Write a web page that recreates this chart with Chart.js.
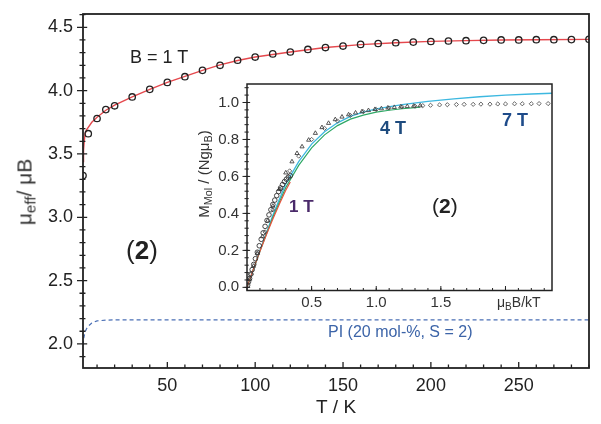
<!DOCTYPE html>
<html>
<head>
<meta charset="utf-8">
<script src="https://cdn.jsdelivr.net/npm/chart.js@4.4.1/dist/chart.umd.min.js"></script>
<style>
  body { margin: 0; background: #fff; }
  #wrap { position: relative; width: 601px; height: 424px; font-family: "Liberation Sans", Arial, sans-serif; color: #222; }
  canvas { position: absolute; }
  #main { left: 0; top: 0; }
  #inset { left: 190px; top: 74px; }
  .note { position: absolute; white-space: nowrap; line-height: 1; }
  .rot { transform: translate(-50%, -50%) rotate(-90deg); }
  sub { font-size: 0.72em; vertical-align: -0.28em; line-height: 0; }
</style>
</head>
<body>
<div id="wrap">
  <canvas id="main" width="601" height="424"></canvas>
  <canvas id="inset" width="375" height="242"></canvas>

  <div class="note rot" style="left:24px; top:192px; font-size:21px; color:#333;">μ<sub>eff</sub>/ μB</div>
  <div class="note" style="left:130px; top:48px; font-size:18px;">B = 1 T</div>
  <div class="note" style="left:126px; top:237px; font-size:26px;">(<b>2</b>)</div>
  <div class="note" style="left:328px; top:324px; font-size:16px; color:#3c64a8;">PI (20 mol-%, S = 2)</div>

  <div class="note rot" style="left:203px; top:174px; font-size:15px; color:#333;">M<sub>Mol</sub> / (Ngμ<sub>B</sub>)</div>
  <div class="note" style="left:497px; top:295px; font-size:14px; color:#333;">μ<sub>B</sub>B/kT</div>
  <div class="note" style="left:289px; top:198px; font-size:17px; font-weight:bold; color:#4a2a6a;">1 T</div>
  <div class="note" style="left:380px; top:119px; font-size:18px; font-weight:bold; color:#1e4b7e;">4 T</div>
  <div class="note" style="left:502px; top:111px; font-size:18px; font-weight:bold; color:#1e4b8a;">7 T</div>
  <div class="note" style="left:432px; top:195px; font-size:21px; color:#222;">(<b>2</b>)</div>
</div>

<script>
// main plot: mu_eff vs T at B = 1 T
const tempK = [2, 5, 10, 15, 20, 30, 40, 50, 60, 70, 80, 90, 100, 110, 120, 130, 140, 150,
               160, 170, 180, 190, 200, 210, 220, 230, 240, 250, 260, 270, 280, 290];
const muEff = [3.33, 3.66, 3.78, 3.85, 3.88, 3.95, 4.01, 4.065, 4.11, 4.16, 4.2, 4.24, 4.265, 4.29,
               4.305, 4.325, 4.34, 4.352, 4.365, 4.372, 4.378, 4.383, 4.388, 4.392, 4.394, 4.397,
               4.4, 4.4, 4.402, 4.402, 4.403, 4.405];
const fitT = [2, 2.3, 2.7, 3.2, 4, 5, 7, 10, 15, 20, 30, 40, 50, 60, 70, 80, 90, 100, 120, 140,
              160, 180, 200, 220, 240, 260, 290];
const fitMu = [3.44, 3.53, 3.6, 3.66, 3.69, 3.71, 3.75, 3.79, 3.845, 3.885, 3.95, 4.01, 4.065, 4.113,
               4.16, 4.203, 4.238, 4.265, 4.305, 4.34, 4.363, 4.378, 4.389, 4.395, 4.4, 4.402, 4.405];
const piT = [2, 2.5, 3, 3.5, 4, 5, 7, 10, 15, 20, 290];
const piMu = [1.99, 2.05, 2.085, 2.105, 2.12, 2.14, 2.165, 2.182, 2.188, 2.19, 2.19];
const tTicks = [50, 100, 150, 200, 250];
const muTicks = [2.0, 2.5, 3.0, 3.5, 4.0, 4.5];

// inset: M vs muB*B/kT
const m1x = [0.005, 0.012, 0.02, 0.03, 0.04, 0.052, 0.065, 0.08, 0.095, 0.11, 0.125, 0.14, 0.155,
             0.17, 0.185, 0.2, 0.215, 0.23, 0.245, 0.26, 0.275, 0.29, 0.305, 0.32, 0.335];
const m1y = [0.012, 0.03, 0.048, 0.072, 0.096, 0.124, 0.155, 0.19, 0.225, 0.26, 0.295, 0.33, 0.362,
             0.392, 0.42, 0.448, 0.472, 0.496, 0.518, 0.538, 0.556, 0.572, 0.585, 0.596, 0.604];
const m4x = [0.02, 0.05, 0.08, 0.12, 0.16, 0.2, 0.25, 0.3, 0.348, 0.387, 0.426, 0.477, 0.529, 0.58,
             0.631, 0.683, 0.735, 0.786, 0.84, 0.89, 0.94, 0.99, 1.04, 1.09, 1.14, 1.19, 1.24, 1.29, 1.34];
const m4y = [0.045, 0.115, 0.185, 0.275, 0.36, 0.44, 0.53, 0.62, 0.68, 0.725, 0.761, 0.797, 0.834,
             0.865, 0.888, 0.908, 0.922, 0.934, 0.944, 0.951, 0.957, 0.963, 0.967, 0.971, 0.974,
             0.977, 0.979, 0.981, 0.983];
const m7x = [0.03, 0.08, 0.14, 0.2, 0.26, 0.33, 0.4, 0.5, 0.6, 0.7, 0.8, 0.9, 1.0, 1.1, 1.2, 1.3,
             1.36, 1.42, 1.49, 1.55, 1.62, 1.68, 1.75, 1.81, 1.88, 1.94, 2.0, 2.07, 2.13, 2.2, 2.26, 2.33];
const m7y = [0.07, 0.18, 0.3, 0.42, 0.53, 0.63, 0.71, 0.8, 0.86, 0.9, 0.93, 0.95, 0.962, 0.97, 0.976,
             0.98, 0.983, 0.985, 0.987, 0.988, 0.989, 0.99, 0.99, 0.991, 0.991, 0.992, 0.992, 0.993,
             0.993, 0.993, 0.994, 0.994];
const fit1x = [0, 0.05, 0.1, 0.15, 0.2, 0.25, 0.3, 0.335];
const fit1y = [0, 0.1, 0.195, 0.285, 0.37, 0.45, 0.525, 0.57];
const fit4x = [0, 0.1, 0.2, 0.3, 0.4, 0.5, 0.6, 0.7, 0.8, 0.9, 1.0, 1.1, 1.2, 1.3, 1.34];
const fit4y = [0, 0.195, 0.38, 0.54, 0.66, 0.755, 0.825, 0.875, 0.91, 0.932, 0.948, 0.958, 0.966, 0.972, 0.975];
const fit7x = [0, 0.1, 0.2, 0.3, 0.4, 0.5, 0.6, 0.7, 0.8, 0.9, 1.0, 1.2, 1.4, 1.6, 1.8, 2.0, 2.2, 2.36];
const fit7y = [0, 0.2, 0.39, 0.56, 0.68, 0.775, 0.842, 0.89, 0.925, 0.948, 0.965, 0.988, 1.006,
               1.02, 1.031, 1.04, 1.046, 1.05];
const xiTicks = [0.5, 1.0, 1.5, 2.0];
const miTicks = [0, 0.2, 0.4, 0.6, 0.8, 1.0];

Chart.defaults.font.family = '"Liberation Sans", Arial, sans-serif';

const pts = (xs, ys) => xs.map((x, i) => ({ x: x, y: ys[i] }));

// keep label overhang from pushing the plot area around
const noPad = s => { s.paddingTop = 0; s.paddingBottom = 0; s.paddingLeft = 0; s.paddingRight = 0; };

// box round the plot + tick marks (x ticks point inward, y ticks cross the axis)
const frame = {
    id: 'frame',
    afterDatasetsDraw(chart, args, o) {
        const { ctx, chartArea: a, scales: { x, y } } = chart;
        ctx.save();
        ctx.strokeStyle = '#222';
        ctx.lineWidth = o.line;
        ctx.strokeRect(a.left, a.top, a.right - a.left, a.bottom - a.top);
        ctx.lineWidth = o.tickWidth;
        ctx.beginPath();
        const minor = (scale, step) => {
            const out = [];
            for (let i = Math.ceil(scale.min / step - 1e-6); i * step <= scale.max + 1e-9; i++) out.push(i * step);
            return out;
        };
        minor(x, o.xStep).forEach(v => {
            const px = x.getPixelForValue(v);
            ctx.moveTo(px, a.bottom); ctx.lineTo(px, a.bottom - o.minorLen);
        });
        x.ticks.forEach(t => {
            const px = x.getPixelForValue(t.value);
            ctx.moveTo(px, a.bottom); ctx.lineTo(px, a.bottom - o.majorLen);
        });
        minor(y, o.yStep).forEach(v => {
            const py = y.getPixelForValue(v);
            ctx.moveTo(a.left - o.minorLen, py); ctx.lineTo(a.left + o.minorLen * 0.7, py);
        });
        y.ticks.forEach(t => {
            const py = y.getPixelForValue(t.value);
            ctx.moveTo(a.left - o.majorLen, py); ctx.lineTo(a.left + o.majorLen * 0.7, py);
        });
        ctx.stroke();
        ctx.restore();
    }
};

// main chart
new Chart(document.getElementById('main'), {
    type: 'scatter',
    data: {
        datasets: [
            { data: pts(tempK, muEff), pointStyle: 'circle', pointRadius: 3.2, borderColor: '#222',
              borderWidth: 1.3, backgroundColor: 'rgba(0,0,0,0)', order: 0 },
            { data: pts(fitT, fitMu), showLine: true, pointRadius: 0, borderColor: '#e5484d',
              borderWidth: 1.4, order: 1 },
            { data: pts(piT, piMu), showLine: true, pointRadius: 0, borderColor: '#4a6fb5',
              borderWidth: 1.2, borderDash: [4, 3], order: 2 }
        ]
    },
    options: {
        responsive: false,
        animation: false,
        events: [],
        layout: { padding: { top: 14, right: 12, left: 0, bottom: 0 } },
        plugins: {
            legend: { display: false },
            tooltip: { enabled: false },
            frame: { line: 1.8, tickWidth: 1.3, majorLen: 6, minorLen: 3.5, xStep: 10, yStep: 0.1 }
        },
        scales: {
            x: {
                type: 'linear', min: 2, max: 290,
                grid: { display: false, drawTicks: false },
                border: { display: false },
                ticks: { padding: 7, color: '#222', font: { size: 18 }, callback: v => v },
                afterBuildTicks: s => { s.ticks = tTicks.map(v => ({ value: v })); },
                afterFit: s => { s.height = 56; noPad(s); },
                title: { display: true, text: 'T / K', color: '#222', font: { size: 19 },
                         padding: { top: 0, bottom: 5 } }
            },
            y: {
                type: 'linear', min: 1.81, max: 4.605,
                grid: { display: false, drawTicks: false },
                border: { display: false },
                ticks: { padding: 10, color: '#222', font: { size: 18 }, callback: v => v.toFixed(1) },
                afterBuildTicks: s => { s.ticks = muTicks.map(v => ({ value: v })); },
                afterFit: s => { s.width = 83; noPad(s); }
            }
        }
    },
    plugins: [frame]
});

// inset chart
new Chart(document.getElementById('inset'), {
    type: 'scatter',
    data: {
        datasets: [
            { data: pts(m1x, m1y), pointStyle: 'circle', pointRadius: 2.3, borderColor: '#333',
              borderWidth: 0.9, backgroundColor: 'rgba(0,0,0,0)', order: 0 },
            { data: pts(m4x, m4y), pointStyle: 'triangle', pointRadius: 2.4, borderColor: '#444',
              borderWidth: 0.9, backgroundColor: 'rgba(0,0,0,0)', order: 0 },
            { data: pts(m7x, m7y), pointStyle: 'rectRot', pointRadius: 2.1, borderColor: '#555',
              borderWidth: 0.9, backgroundColor: 'rgba(0,0,0,0)', order: 0 },
            { data: pts(fit1x, fit1y), showLine: true, pointRadius: 0, borderColor: '#e5543e',
              borderWidth: 1.2, order: 1 },
            { data: pts(fit4x, fit4y), showLine: true, pointRadius: 0, borderColor: '#2ea865',
              borderWidth: 1.2, order: 2 },
            { data: pts(fit7x, fit7y), showLine: true, pointRadius: 0, borderColor: '#3db8e0',
              borderWidth: 1.3, order: 3 }
        ]
    },
    options: {
        responsive: false,
        animation: false,
        events: [],
        layout: { padding: { top: 10, right: 13, left: 0, bottom: 0 } },
        plugins: {
            legend: { display: false },
            tooltip: { enabled: false },
            frame: { line: 1.5, tickWidth: 1, majorLen: 4.5, minorLen: 2.5, xStep: 0.1, yStep: 0.04 }
        },
        scales: {
            x: {
                type: 'linear', min: 0, max: 2.36,
                grid: { display: false, drawTicks: false },
                border: { display: false },
                ticks: { padding: 3, color: '#333', font: { size: 15 },
                         callback: v => (v === 2 ? '' : v.toFixed(1)) },
                afterBuildTicks: s => { s.ticks = xiTicks.map(v => ({ value: v })); },
                afterFit: s => { s.height = 25.5; noPad(s); }
            },
            y: {
                type: 'linear', min: -0.017, max: 1.1,
                grid: { display: false, drawTicks: false },
                border: { display: false },
                ticks: { padding: 8, color: '#333', font: { size: 15 }, callback: v => v.toFixed(1) },
                afterBuildTicks: s => { s.ticks = miTicks.map(v => ({ value: v })); },
                afterFit: s => { s.width = 57; noPad(s); }
            }
        }
    },
    plugins: [frame]
});
</script>
</body>
</html>
